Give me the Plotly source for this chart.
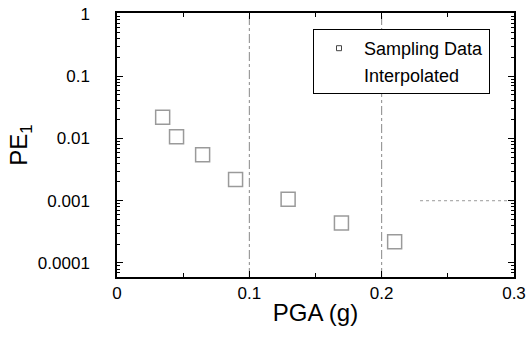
import plotly.graph_objects as go

pga = [0.0345, 0.045, 0.0647, 0.0896, 0.1293, 0.1696, 0.2098]
pe1 = [0.022, 0.0107, 0.0055, 0.0022, 0.00106, 0.00044, 0.00022]

y_tickvals = [1, 0.1, 0.01, 0.001, 0.0001]
y_ticktext = ["1", "0.1", "0.01", "0.001", "0.0001"]
x_tickvals = [0, 0.1, 0.2, 0.3]
x_ticktext = ["0", "0.1", "0.2", "0.3"]
y_minor = [m * 10.0 ** e for e in range(-5, 1) for m in range(2, 10)]

fig = go.Figure()
fig.add_trace(go.Scatter(
    x=pga, y=pe1, mode="markers", name="Sampling Data", showlegend=False,
    marker=dict(symbol="square-open", size=14, color="#9a9a9a", line=dict(width=1.5)),
))
fig.add_trace(go.Scatter(
    x=[None], y=[None], mode="lines+markers", name="Sampling Data",
    marker=dict(symbol="square-open", size=5, color="#444", line=dict(width=1)),
    line=dict(color="rgba(0,0,0,0)"),
))
fig.add_trace(go.Scatter(
    x=[None], y=[None], mode="lines", name="Interpolated",
    line=dict(color="rgba(0,0,0,0)"),
))

# reference lines
for xv in [0.1, 0.2]:
    fig.add_shape(type="line", xref="x", yref="paper", x0=xv, x1=xv, y0=0, y1=1,
                  line=dict(color="#888", width=1, dash="dashdot"), layer="below")
fig.add_shape(type="line", xref="x", yref="y", x0=0.229, x1=0.3, y0=0.001, y1=0.001,
              line=dict(color="#999", width=1, dash="dot"), layer="below")

fig.update_layout(
    width=529, height=338,
    margin=dict(l=117, r=15, t=13, b=61),
    paper_bgcolor="white", plot_bgcolor="white",
    font=dict(family="Liberation Sans, Arial", color="black", size=17),
    showlegend=True,
    legend=dict(x=(313 - 117) / 397, y=(277 - 29) / 264, xanchor="left", yanchor="top",
                bordercolor="black", borderwidth=1, bgcolor="white",
                font=dict(size=18), itemwidth=40, tracegroupgap=0),
)
fig.update_xaxes(
    range=[0, 0.3], tickvals=x_tickvals, ticktext=x_ticktext, automargin=False,
    ticklabeloverflow="allow",
    ticks="inside", ticklen=6, tickcolor="black", mirror="ticks",
    showline=True, linecolor="black", linewidth=1.5, showgrid=False, zeroline=False,
    minor=dict(dtick=0.05, tick0=0, ticks="inside", ticklen=4, tickcolor="black", showgrid=False),
    title=dict(text="PGA (g)", font=dict(size=24), standoff=2),
)
fig.update_yaxes(
    type="log", range=[-4.225, 0.015], tickvals=y_tickvals, ticktext=y_ticktext, automargin=False,
    ticklabeloverflow="allow",
    ticks="inside", ticklen=6, tickcolor="black", mirror="ticks", ticklabelstandoff=22,
    showline=True, linecolor="black", linewidth=1.5, showgrid=False, zeroline=False,
    minor=dict(tickvals=y_minor, ticks="inside", ticklen=3, tickcolor="black", showgrid=False),
    title=dict(text="PE<sub>1</sub>", font=dict(size=24), standoff=3),
)
fig.write_html("out.html", config={"displayModeBar": False},
               post_script="document.body.style.margin='0';")
